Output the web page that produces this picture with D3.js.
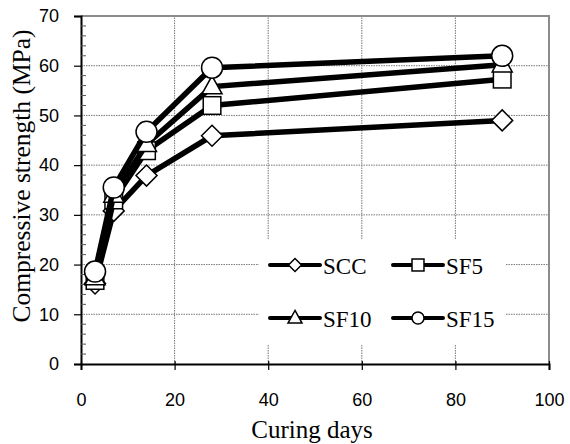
<!DOCTYPE html>
<html>
<head>
<meta charset="utf-8">
<script src="https://cdn.jsdelivr.net/npm/d3@7"></script>
<style>
  body { margin: 0; background: #fff; }
  svg { display: block; }
</style>
</head>
<body>
<div id="chart"></div>
<script>
// curing ages (days) and compressive strengths (MPa)
const days = [3, 7, 14, 28, 90];
const scc = [16.2, 30.8, 37.9, 45.9, 49.0];
const sf5 = [16.8, 33.0, 42.9, 52.0, 57.3];
const sf10 = [17.4, 34.0, 44.2, 55.8, 60.2];
const sf15 = [18.6, 35.5, 46.7, 59.6, 62.0];
const seriesNames = ['SCC', 'SF5', 'SF10', 'SF15'];
const seriesShapes = ['diamond', 'square', 'triangle', 'circle'];
const xTicks = [0, 20, 40, 60, 80, 100];
const yTicks = [0, 10, 20, 30, 40, 50, 60, 70];

const width = 570;
const height = 444;
const margin = { top: 16, right: 21, bottom: 80, left: 81 };
const serif = "'Liberation Serif', 'Times New Roman', serif";
const sans = "'Liberation Sans', Arial, sans-serif";

const svg = d3.select('#chart').append('svg').attr('width', width).attr('height', height);

const x = d3.scaleLinear().domain([0, 100]).range([margin.left, width - margin.right]);
const y = d3.scaleLinear().domain([0, 70]).range([height - margin.bottom, margin.top]);

// grid
svg.append('g').selectAll('line').data(xTicks.slice(1, -1)).join('line')
  .attr('x1', (d) => x(d)).attr('x2', (d) => x(d)).attr('y1', y(0)).attr('y2', y(70))
  .attr('stroke', '#777').attr('stroke-width', 1).attr('stroke-dasharray', '1.5,1');
svg.append('g').selectAll('line').data(yTicks.slice(1, -1)).join('line')
  .attr('x1', x(0)).attr('x2', x(100)).attr('y1', (d) => y(d)).attr('y2', (d) => y(d))
  .attr('stroke', '#777').attr('stroke-width', 1).attr('stroke-dasharray', '1.5,1');

// plot frame: top/right gray
svg.append('path')
  .attr('d', `M${x(0)},${y(70)}H${x(100)}V${y(0)}`)
  .attr('fill', 'none').attr('stroke', '#8c8c8c').attr('stroke-width', 2);

// legend background (covers grid)
svg.append('rect').attr('x', 259).attr('y', 240).attr('width', 247).attr('height', 105).attr('fill', '#fff');

// axes
const xAxis = svg.append('g').attr('transform', `translate(0,${y(0)})`)
  .call(d3.axisBottom(x).tickValues(xTicks).tickSize(6).tickPadding(23));
const yAxis = svg.append('g').attr('transform', `translate(${x(0)},0)`)
  .call(d3.axisLeft(y).tickValues(yTicks).tickSize(7).tickPadding(15));
[xAxis, yAxis].forEach((g) => {
  g.attr('font-family', sans).attr('font-size', 18);
  g.select('.domain').attr('stroke', '#000').attr('stroke-width', 2);
  g.selectAll('.tick line').attr('stroke', '#000').attr('stroke-width', 1.2);
  g.selectAll('text').attr('fill', '#000');
});
xAxis.selectAll('.tick line').attr('y1', -3);

// y minor ticks
const minor = d3.range(0, 70.1, 2).filter((v) => v % 10 !== 0);
svg.append('g').selectAll('line').data(minor).join('line')
  .attr('x1', x(0)).attr('x2', x(0) + 5).attr('y1', (d) => y(d)).attr('y2', (d) => y(d))
  .attr('stroke', '#555').attr('stroke-width', 1);

// axis titles
svg.append('text').attr('x', 312).attr('y', 438).attr('text-anchor', 'middle')
  .attr('font-family', serif).attr('font-size', 25).text('Curing days');
svg.append('text').attr('transform', 'translate(30,176) rotate(-90)').attr('text-anchor', 'middle')
  .attr('font-family', serif).attr('font-size', 25.5).text('Compressive strength (MPa)');

function marker(g, shape, cx, cy, s) {
  if (shape === 'circle') {
    g.append('circle').attr('cx', cx).attr('cy', cy).attr('r', s)
      .attr('fill', '#fff').attr('stroke', '#000').attr('stroke-width', 1.5);
  } else if (shape === 'square') {
    g.append('rect').attr('x', cx - s * 0.88).attr('y', cy - s * 0.88).attr('width', s * 1.76).attr('height', s * 1.76)
      .attr('fill', '#fff').attr('stroke', '#000').attr('stroke-width', 1.5);
  } else if (shape === 'diamond') {
    g.append('path').attr('d', `M${cx},${cy - s}L${cx + s},${cy}L${cx},${cy + s}L${cx - s},${cy}Z`)
      .attr('fill', '#fff').attr('stroke', '#000').attr('stroke-width', 1.5);
  } else {
    const h = s * 1.8;
    g.append('path').attr('d', `M${cx},${cy - h * 0.6}L${cx + s},${cy + h * 0.4}L${cx - s},${cy + h * 0.4}Z`)
      .attr('fill', '#fff').attr('stroke', '#000').attr('stroke-width', 1.5);
  }
}

const markerSize = { circle: 10.5, square: 10, diamond: 10.5, triangle: 10 };
const legendSize = { circle: 6, square: 6.8, diamond: 6.5, triangle: 7 };

const line = d3.line().x((d) => x(d[0])).y((d) => y(d[1]));
[scc, sf5, sf10, sf15].forEach((vals, i) => {
  const pts = days.map((d, j) => [d, vals[j]]);
  const g = svg.append('g');
  g.append('path').attr('d', line(pts)).attr('fill', 'none').attr('stroke', '#000').attr('stroke-width', 5.5);
  pts.forEach((p) => marker(g, seriesShapes[i], x(p[0]), y(p[1]), markerSize[seriesShapes[i]]));
});

// legend
const legendPos = [[270, 265], [393, 265], [270, 318], [393, 318]];
seriesNames.forEach((name, i) => {
  const [lx, ly] = legendPos[i];
  const g = svg.append('g');
  g.append('line').attr('x1', lx).attr('x2', lx + 50).attr('y1', ly).attr('y2', ly)
    .attr('stroke', '#000').attr('stroke-width', 4).attr('stroke-linecap', 'round');
  marker(g, seriesShapes[i], lx + 25, ly, legendSize[seriesShapes[i]]);
  g.append('text').attr('x', lx + 53).attr('y', ly + 9)
    .attr('font-family', serif).attr('font-size', 23).text(name);
});
</script>
</body>
</html>
